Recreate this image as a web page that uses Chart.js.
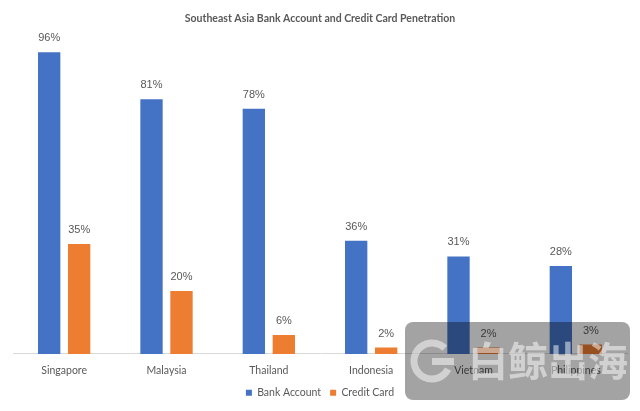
<!DOCTYPE html>
<html>
<head>
<meta charset="utf-8">
<script src="https://cdn.jsdelivr.net/npm/chart.js@4/dist/chart.umd.min.js"></script>
<style>
  html, body { margin: 0; padding: 0; background: #fff; }
  #wrap { width: 640px; height: 411px; }
</style>
</head>
<body>
<div id="wrap"><canvas id="penetrationChart" width="640" height="411"></canvas></div>
<script>
// data
const countries = ['Singapore', 'Malaysia', 'Thailand', 'Indonesia', 'Vietnam', 'Philippines'];
const bankAccount = [96, 81, 78, 36, 31, 28];
const creditCard = [35, 20, 6, 2, 2, 3];

// data labels above each bar
const barLabels = {
    id: 'barLabels',
    afterDatasetsDraw(chart) {
        const ctx = chart.ctx;
        ctx.save();
        ctx.font = '11px "Liberation Sans", Arial, sans-serif';
        ctx.fillStyle = '#595959';
        ctx.textAlign = 'center';
        ctx.textBaseline = 'middle';
        chart.data.datasets.forEach((ds, i) => {
            chart.getDatasetMeta(i).data.forEach((bar, j) => {
                ctx.fillText(ds.data[j] + '%', bar.x, bar.y - 14);
            });
        });
        ctx.restore();
    }
};

// watermark box in the bottom right corner
const watermark = {
    id: 'watermark',
    afterDraw(chart) {
        const ctx = chart.ctx;
        ctx.save();
        ctx.fillStyle = 'rgba(0,0,0,0.36)';
        ctx.beginPath();
        ctx.roundRect(405, 322, 225, 78, 8);
        ctx.fill();
        // logo
        ctx.strokeStyle = 'rgba(255,255,255,0.5)';
        ctx.lineWidth = 7;
        ctx.beginPath();
        ctx.arc(432, 361, 18, 0.15 * Math.PI, 1.75 * Math.PI);
        ctx.stroke();
        ctx.fillStyle = 'rgba(255,255,255,0.5)';
        ctx.fillRect(432, 358, 22, 7);
        // text
        ctx.font = 'bold 40px "Noto Sans CJK SC"';
        ctx.textAlign = 'left';
        ctx.textBaseline = 'middle';
        ctx.fillText('白鲸出海', 468, 361);
        ctx.restore();
    }
};

new Chart(document.getElementById('penetrationChart'), {
    type: 'bar',
    data: {
        labels: countries,
        datasets: [
            { label: 'Bank Account', data: bankAccount, backgroundColor: '#4472C4' },
            { label: 'Credit Card', data: creditCard, backgroundColor: '#ED7D31' }
        ]
    },
    options: {
        responsive: false,
        animation: false,
        layout: { padding: { left: 13, right: 13, top: 0, bottom: 3 } },
        datasets: { bar: { categoryPercentage: 0.586, barPercentage: 0.745 } },
        scales: {
            x: {
                grid: { display: false },
                border: { color: '#D9D9D9' },
                ticks: { color: '#595959', font: { family: 'Lato', size: 10.5 }, padding: 2 }
            },
            y: { display: false, min: 0, max: 100 }
        },
        plugins: {
            title: {
                display: true,
                text: 'Southeast Asia Bank Account and Credit Card Penetration',
                color: '#595959',
                font: { family: 'Lato', size: 10.5, weight: 'bold' },
                padding: { top: 12, bottom: 15 }
            },
            legend: {
                position: 'bottom',
                labels: { boxWidth: 6, boxHeight: 6, color: '#595959', font: { family: 'Lato', size: 10.5 }, padding: 9 }
            },
            tooltip: { enabled: false }
        }
    },
    plugins: [barLabels, watermark]
});
</script>
</body>
</html>
